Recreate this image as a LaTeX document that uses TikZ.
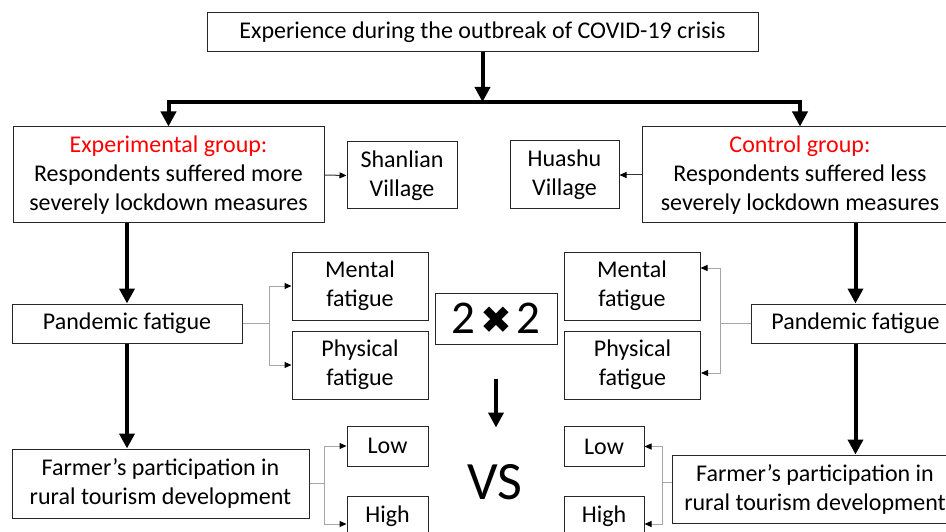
\documentclass[tikz,border=0pt]{standalone}
\usepackage{fontspec}
\setmainfont{Carlito}
\newfontfamily\symfont{DejaVu Sans}
\usetikzlibrary{arrows.meta}
\tikzset{
  box/.style={draw=black!85,line width=1pt,inner sep=0pt,align=center,font=\fontsize{24}{29}\selectfont},
  bigarrow/.style={line width=4pt,-{Triangle[width=15pt,length=15pt]}},
  smallarrow/.style={draw=gray!70,line width=1pt,-{Triangle[width=6pt,length=7pt,black]}}
}
\begin{document}
\begin{tikzpicture}[x=1pt,y=-1pt]
\clip(0,0)rectangle(946,532);
\node[box,minimum width=551pt,minimum height=39pt](top)at(482.5,32.5){Experience during the outbreak of COVID-19 crisis};
\node[box,minimum width=311pt,minimum height=96pt](exp)at(168.5,175){\textcolor{red}{Experimental group:}\\Respondents suffered more\\severely lockdown measures};
\node[box,minimum width=316pt,minimum height=96pt](ctrl)at(800,175){\textcolor{red}{Control group:}\\Respondents suffered less\\severely lockdown measures};
\node[box,minimum width=110pt,minimum height=67pt](shan)at(402,175.5){Shanlian\\Village};
\node[box,minimum width=109pt,minimum height=68pt](hua)at(564.5,175){Huashu\\Village};
\node[box,minimum width=230pt,minimum height=39pt](lpf)at(127,323.5){Pandemic fatigue};
\node[box,minimum width=209pt,minimum height=39pt](rpf)at(855.5,323.5){Pandemic fatigue};
\node[box,minimum width=136pt,minimum height=68pt](lmen)at(360,286){Mental\\fatigue};
\node[box,minimum width=136pt,minimum height=68pt](lphy)at(360,365){Physical\\fatigue};
\node[box,minimum width=136pt,minimum height=68pt](rmen)at(632,286){Mental\\fatigue};
\node[box,minimum width=136pt,minimum height=68pt](rphy)at(632.5,365){Physical\\fatigue};
\node[box,minimum width=122pt,minimum height=51pt,font=\fontsize{47}{47}\selectfont](two)at(496,318.5){2\hspace{5pt}{\symfont\fontsize{38}{38}\selectfont ✖}\hspace{5pt}2};
\node[box,minimum width=297pt,minimum height=69pt](lfp)at(160.5,483.5){Farmer’s participation in\\rural tourism development};
\node[box,minimum width=286pt,minimum height=68pt](rfp)at(815,489){Farmer’s participation in\\rural tourism development};
\node[box,minimum width=81pt,minimum height=40pt](llow)at(387.5,446){Low};
\node[box,minimum width=81pt,minimum height=40pt](lhigh)at(387.5,516){High};
\node[box,minimum width=80pt,minimum height=40pt](rlow)at(604,446.5){Low};
\node[box,minimum width=80pt,minimum height=40pt](rhigh)at(604,516){High};
\node[inner sep=0pt,font=\fontsize{54}{54}\selectfont](vs)at(495,482){VS};
\coordinate(split)at(482.5,102);
\draw[bigarrow](top.south)--(split);
\draw[bigarrow](split)-|(exp.north);
\draw[bigarrow](split)-|(ctrl.north);
\draw[bigarrow](lpf.north|-exp.south)--(lpf.north);
\draw[bigarrow](lpf.south)--(lpf.south|-lfp.north);
\draw[bigarrow](rpf.north|-ctrl.south)--(rpf.north);
\draw[bigarrow](rpf.south)--(rpf.south|-rfp.north);
\draw[bigarrow]([yshift=-34pt]two.south)--([yshift=-83pt]two.south);
\draw[smallarrow,draw=black!80](exp.east)--(shan.west);
\draw[smallarrow,draw=black!80](ctrl.west)--(hua.east);
\draw[smallarrow](lpf.east)--++(27,0)|-(lmen.west);
\draw[smallarrow](lpf.east)--++(27,0)|-(lphy.west);
\draw[smallarrow](rpf.west)--++(-30,0)|-([yshift=18pt]rmen.east);
\draw[smallarrow](rpf.west)--++(-30,0)|-([yshift=-8pt]rphy.east);
\draw[smallarrow](lfp.east)--++(15,0)|-(llow.west);
\draw[smallarrow](lfp.east)--++(15,0)|-([yshift=-8pt]lhigh.west);
\draw[smallarrow]([yshift=7pt]rfp.west)--++(-9,0)|-(rlow.east);
\draw[smallarrow]([yshift=7pt]rfp.west)--++(-9,0)|-([yshift=-8pt]rhigh.east);
\end{tikzpicture}
\end{document}
